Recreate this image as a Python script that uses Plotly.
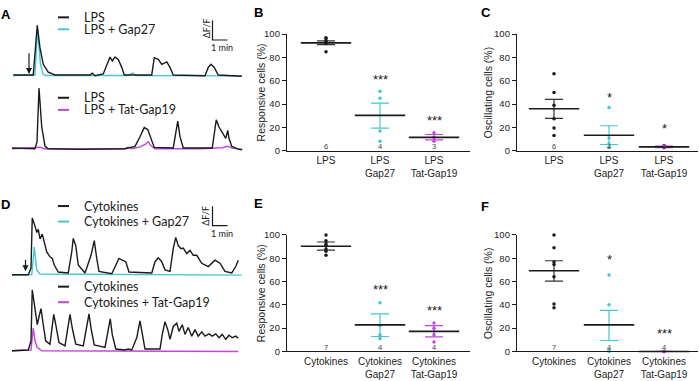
import plotly.graph_objects as go

W, H = 699, 381
INK = '#1a1a1a'
CYAN = '#45C6D2'
MAG = '#C247D9'
SANS = 'Liberation Sans, Arial, sans-serif'
LEG = 'Lato, Carlito, sans-serif'

# ---------- Calcium traces: time (s) and amplitude (% dF/F) ----------
t_a_lps = [5, 85, 101, 112, 125, 145, 172, 312, 321, 332, 365, 379, 392, 401, 412, 425, 439, 449,
           559, 569, 585, 599, 619, 632, 645, 772, 785, 796, 809, 825, 919]
f_a_lps = [0, 0, 255, 139, 55, 14, 0, 0, 9, -4, 5, 55, 92, 72, 92, 80, 39, 0,
           0, 89, 80, 55, 67, 39, 0, -4, 39, 55, 39, 0, -7]
t_a_gap27 = [4, 92, 102, 114, 124, 132, 464, 483, 496, 919]
f_a_gap27 = [-3, 0, 235, 55, 5, -3, -3, 10, -3, -5]

t_a_lps2 = [0, 92, 100, 108, 119, 132, 145, 272, 452, 492, 512, 529, 543, 556, 569,
            645, 655, 663, 672, 685, 801, 809, 817, 828, 845, 855, 863, 868, 879, 905, 921]
f_a_lps2 = [4, 0, 35, 312, 112, 12, 0, -3, 0, 12, 62, 109, 99, 54, 7,
            4, 79, 142, 62, 4, 4, 79, 149, 112, 79, 54, 95, 54, 12, -2, -5]
t_a_tat = [0, 96, 112, 128, 452, 464, 480, 512, 536, 545, 556, 572, 752, 840, 863, 880, 920]
f_a_tat = [0, 5, 8, 0, 0, 8, 0, 10, 25, 37, 15, 0, 0, 5, 13, 3, -3]

t_d_cyt = [0, 65, 76, 81, 92, 99, 105, 112, 121, 129, 139, 152, 161, 169, 185, 225, 239, 245, 255, 265,
           292, 316, 329, 339, 348, 399, 415, 428, 441, 455, 468, 559, 572, 585, 599, 612, 632, 645,
           655, 665, 676, 685, 699, 712, 725, 739, 759, 785, 812, 832, 852, 879, 895, 905]
f_d_cyt = [0, 0, 34, 292, 250, 217, 234, 184, 209, 167, 117, 92, 84, 50, 14, 9, 117, 187, 150, 50,
           9, 100, 175, 84, 17, 5, 50, 84, 75, 67, 14, 9, 67, 87, 67, 25, 17, 134,
           192, 150, 134, 137, 109, 125, 100, 100, 59, 42, 75, 59, 17, 9, 42, 75]
t_d_gap27 = [0, 79, 89, 99, 112, 919]
f_d_gap27 = [-2, 0, 142, 25, 4, -2]

t_d_cyt2 = [0, 65, 76, 81, 92, 101, 108, 116, 125, 135, 152, 159, 167, 175, 188, 212, 225, 232, 241, 255,
            285, 299, 308, 316, 329, 372, 385, 393, 401, 415, 452, 465, 479, 499, 512, 521, 532,
            592, 601, 612, 623, 632, 645, 659, 668, 681, 692, 705, 719, 732, 745, 759, 772, 788,
            801, 815, 828, 841, 855, 868, 881, 895, 905]
f_d_cyt2 = [0, 4, 50, 314, 217, 134, 175, 217, 134, 50, 34, 117, 187, 134, 42, 25, 117, 187, 117, 34,
            25, 117, 190, 117, 30, 17, 100, 164, 84, 9, 4, 9, 4, 67, 154, 84, 9,
            9, 84, 150, 109, 59, 125, 142, 100, 134, 84, 120, 75, 109, 75, 97, 75, 87,
            75, 87, 67, 84, 59, 80, 67, 75, 64]
t_d_tat = [0, 76, 85, 92, 101, 119, 905]
f_d_tat = [0, 4, 117, 50, 17, 0, -4]

# ---------- Dot plots (percent of cells) ----------
lps_groups = ['LPS', 'LPS<br>Gap27', 'LPS<br>Tat-Gap19']
cyt_groups = ['Cytokines', 'Cytokines<br>Gap27', 'Cytokines<br>Tat-Gap19']

b_lps = [97, 96, 94, 93, 92, 85]
b_gap27 = [51, 45, 17, 8]
b_tat = [15.5, 11.5, 8]
b_mean = [92.5, 30.3, 11.4]
b_sem_hi = [94.2, 40.8, 13.9]
b_sem_lo = [91.0, 19.4, 9.2]
b_n = ['6', '4', '3']
b_sig = ['', '***', '***']
b_sig_y = [0, 59, 24]

c_lps = [66, 50, 39, 27.5, 19.5, 13]
c_gap27 = [37, 11, 6, 2.5]
c_tat = [4.4, 3.6, 2.5]
c_mean = [36, 13.3, 3.3]
c_sem_hi = [44, 21.4, 4.0]
c_sem_lo = [27.8, 5.3, 2.6]
c_n = ['6', '4', '3']
c_sig = ['', '*', '*']
c_sig_y = [0, 44, 17]

e_cyt = [100, 95, 92.5, 91, 88, 86, 82.5]
e_gap27 = [41.7, 22, 14.4, 11]
e_tat = [24.4, 20, 14.4, 8]
e_mean = [90.3, 22.8, 17.2]
e_sem_hi = [93.9, 32.2, 22.2]
e_sem_lo = [87, 12.8, 12.5]
e_n = ['7', '4', '4']
e_sig = ['', '***', '***']
e_sig_y = [0, 51, 33]

f_cyt = [100, 89, 76.7, 74.7, 64, 40.8, 37.5]
f_gap27 = [65.6, 40, 1, 0]
f_tat = [0, 0, 0, 0]
f_mean = [69.2, 22.8, 0]
f_sem_hi = [77.8, 35.3, 0]
f_sem_lo = [60.3, 9.4, 0]
f_n = ['7', '4', '4']
f_sig = ['', '*', '***']
f_sig_y = [0, 77.5, 14]

yticks = [0, 20, 40, 60, 80, 100]


def PX(x):
    return x / W


def PY(y):
    return 1 - y / H


fig = go.Figure()
layout = dict(width=W, height=H, margin=dict(l=0, r=0, t=0, b=0),
              paper_bgcolor='white', plot_bgcolor='white', showlegend=False,
              hovermode=False)
annotations = []
shapes = []

# ---------- trace panels ----------
trace_axes = {1: ((12, 76), [-25, 295]), 2: ((80, 152), [-25, 335]),
              3: ((204, 282), [-26.5, 363.5]), 4: ((286, 360), [-25, 345])}
for k, (dom, rng) in trace_axes.items():
    sx = '' if k == 1 else str(k)
    layout['xaxis' + sx] = dict(domain=[PX(10), PX(246)], range=[-8, 936], visible=False,
                                anchor='y' + sx, fixedrange=True)
    layout['yaxis' + sx] = dict(domain=[PY(dom[1]), PY(dom[0])], range=rng, visible=False,
                                anchor='x' + sx, fixedrange=True)


def add_line(t, f, color, k, width=1.4):
    sx = '' if k == 1 else str(k)
    fig.add_trace(go.Scatter(x=t, y=f, mode='lines', line=dict(color=color, width=width),
                             xaxis='x' + sx, yaxis='y' + sx, cliponaxis=False))


add_line(t_a_gap27, f_a_gap27, CYAN, 1)
add_line(t_a_lps, f_a_lps, INK, 1)
add_line(t_a_tat, f_a_tat, MAG, 2)
add_line(t_a_lps2, f_a_lps2, INK, 2)
add_line(t_d_gap27, f_d_gap27, CYAN, 3)
add_line(t_d_cyt, f_d_cyt, INK, 3)
add_line(t_d_tat, f_d_tat, MAG, 4)
add_line(t_d_cyt2, f_d_cyt2, INK, 4)

# scale bars (60 s, 100 % dF/F)
for k, base in ((1, 180), (3, 253)):
    sx = '' if k == 1 else str(k)
    fig.add_trace(go.Scatter(x=[802, 802, 862], y=[base + 100, base, base], mode='lines',
                             line=dict(color=INK, width=1.2), xaxis='x' + sx, yaxis='y' + sx,
                             cliponaxis=False))

# arrows (stimulus onset)
annotations.append(dict(x=68, y=5, ax=68, ay=120, xref='x', yref='y', axref='x', ayref='y',
                        text='', showarrow=True, arrowhead=2, arrowsize=1, arrowwidth=1.2,
                        arrowcolor=INK))
annotations.append(dict(x=54, y=18, ax=54, ay=85, xref='x3', yref='y3', axref='x3', ayref='y3',
                        text='', showarrow=True, arrowhead=2, arrowsize=1, arrowwidth=1.2,
                        arrowcolor=INK))

# scale bar labels
for (xx, yy, txt, ang) in ((206, 23, 'ΔF/F', -90), (221.5, 42.5, '1 min', 0),
                           (206, 216, 'ΔF/F', -90), (221.5, 234, '1 min', 0)):
    annotations.append(dict(x=PX(xx), y=PY(yy), xref='paper', yref='paper', text=txt,
                            textangle=ang, showarrow=False, xanchor='center', yanchor='middle',
                            font=dict(family=LEG, size=9, color=INK)))

# legends of the trace panels
legend_rows = [(11.7, INK, 'LPS'), (24, CYAN, 'LPS + Gap27'),
               (94.5, INK, 'LPS'), (107, MAG, 'LPS + Tat-Gap19'),
               (206, INK, 'Cytokines'), (222, CYAN, 'Cytokines + Gap27'),
               (289, INK, 'Cytokines'), (305, MAG, 'Cytokines + Tat-Gap19')]
for yy, col, txt in legend_rows:
    shapes.append(dict(type='line', xref='paper', yref='paper', x0=PX(58), x1=PX(69),
                       y0=PY(yy), y1=PY(yy), line=dict(color=col, width=2)))
    annotations.append(dict(x=PX(82), y=PY(yy), xref='paper', yref='paper', text=txt,
                            showarrow=False, xanchor='left', yanchor='middle',
                            font=dict(family=LEG, size=12.5, color=INK)))


# ---------- dot plot panels ----------
def dot_panel(k, groups, vals, mean, hi, lo, n, sig, sig_y, x_left, x_right, x0, unit,
              y_top, y_bot, ytitle, title_x):
    sx = str(k)
    layout['xaxis' + sx] = dict(domain=[PX(x_left), PX(x_right)],
                                range=[(x_left - x0) / unit, (x_right - x0) / unit],
                                anchor='y' + sx, showline=True, linecolor=INK, linewidth=1.3,
                                ticks='', tickvals=[0, 1, 2], ticktext=groups, showgrid=False,
                                zeroline=False, tickfont=dict(family=SANS, size=10, color='#222'),
                                fixedrange=True)
    layout['yaxis' + sx] = dict(domain=[PY(y_bot), PY(y_top)], range=[0, 100],
                                anchor='x' + sx, showline=True, linecolor=INK, linewidth=1.3,
                                ticks='outside', ticklen=4, tickwidth=1.2, tickcolor=INK,
                                tickvals=yticks, showgrid=False, zeroline=False,
                                tickfont=dict(family=SANS, size=9.5, color='#222'),
                                fixedrange=True)
    colors = [INK, CYAN, MAG]
    bar_colors = ['#333333', CYAN, MAG]
    for i in range(3):
        fig.add_trace(go.Scatter(
            x=[i], y=[mean[i]], mode='markers', marker=dict(size=1, color='rgba(0,0,0,0)'),
            error_y=dict(type='data', symmetric=False, array=[hi[i] - mean[i]],
                         arrayminus=[mean[i] - lo[i]], color=bar_colors[i], thickness=1.2,
                         width=9),
            xaxis='x' + sx, yaxis='y' + sx, cliponaxis=False))
        fig.add_trace(go.Scatter(
            x=[i] * len(vals[i]), y=vals[i], mode='markers',
            marker=dict(size=3.5, color=colors[i]), xaxis='x' + sx, yaxis='y' + sx,
            cliponaxis=False))
    fig.add_trace(go.Scatter(
        x=[0, 1, 2], y=mean, mode='markers',
        marker=dict(symbol='line-ew', size=36, line=dict(color=INK, width=1.6)),
        xaxis='x' + sx, yaxis='y' + sx, cliponaxis=False))
    for i in range(3):
        annotations.append(dict(x=i, y=3.5, xref='x' + sx, yref='y' + sx, text=n[i],
                                showarrow=False, xanchor='center', yanchor='middle',
                                font=dict(family=SANS, size=7.5, color='#444')))
        if sig[i]:
            annotations.append(dict(x=i, y=sig_y[i], xref='x' + sx, yref='y' + sx, text=sig[i],
                                    showarrow=False, xanchor='center', yanchor='middle',
                                    yshift=2, font=dict(family=SANS, size=13, color=INK)))
    annotations.append(dict(x=PX(title_x), y=PY((y_top + y_bot) / 2), xref='paper', yref='paper',
                            text=ytitle, textangle=-90, showarrow=False, xanchor='center',
                            yanchor='middle', font=dict(family=SANS, size=10.5, color='#222')))


dot_panel(5, lps_groups, [b_lps, b_gap27, b_tat], b_mean, b_sem_hi, b_sem_lo, b_n, b_sig, b_sig_y,
          287, 470, 326, 54, 29, 149, 'Responsive cells (%)', 261)
dot_panel(6, lps_groups, [c_lps, c_gap27, c_tat], c_mean, c_sem_hi, c_sem_lo, c_n, c_sig, c_sig_y,
          517, 698, 554, 55, 29, 149, 'Oscillating cells (%)', 488)
dot_panel(7, cyt_groups, [e_cyt, e_gap27, e_tat], e_mean, e_sem_hi, e_sem_lo, e_n, e_sig, e_sig_y,
          287, 470, 326, 54, 235.7, 355.7, 'Responsive cells (%)', 261)
dot_panel(8, cyt_groups, [f_cyt, f_gap27, f_tat], f_mean, f_sem_hi, f_sem_lo, f_n, f_sig, f_sig_y,
          517, 698, 554, 55, 235.7, 355.7, 'Oscillating cells (%)', 488)

# panel letters
for (xx, yy, txt) in ((6, 8.5, 'A'), (258.5, 7, 'B'), (485.5, 7, 'C'),
                      (5, 204, 'D'), (258.5, 203, 'E'), (485, 206.5, 'F')):
    annotations.append(dict(x=PX(xx), y=PY(yy), xref='paper', yref='paper', text='<b>%s</b>' % txt,
                            showarrow=False, xanchor='center', yanchor='middle',
                            font=dict(family=SANS, size=13, color='#000')))

layout['annotations'] = annotations
layout['shapes'] = shapes
fig.update_layout(**layout)
fig.write_html('out.html', config={'displayModeBar': False},
               post_script="document.body.style.margin='0px';document.body.style.padding='0px';")
